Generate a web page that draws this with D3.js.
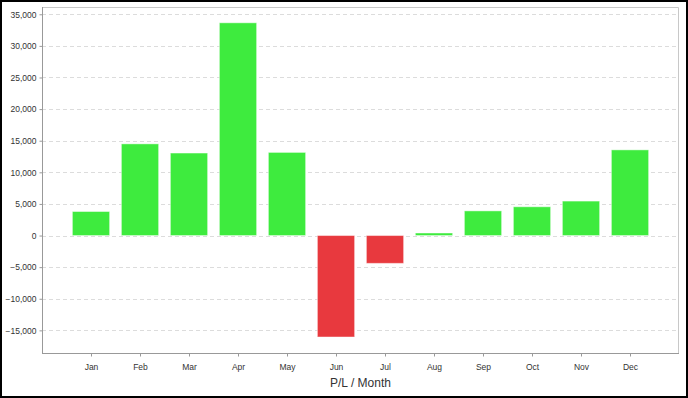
<!DOCTYPE html>
<html>
<head>
<meta charset="utf-8">
<script src="https://cdn.jsdelivr.net/npm/d3@7"></script>
<style>
  body { margin: 0; background: #fff; }
  svg { display: block; font-family: "Liberation Sans", Arial, sans-serif; }
</style>
</head>
<body>
<svg id="chart" width="688" height="398"></svg>
<script>
// P/L per month
var months = ["Jan", "Feb", "Mar", "Apr", "May", "Jun", "Jul", "Aug", "Sep", "Oct", "Nov", "Dec"];
var profit = [3800, 14500, 13050, 33650, 13150, -16050, -4400, 400, 3900, 4550, 5450, 13550];
var yTicks = [-15000, -10000, -5000, 0, 5000, 10000, 15000, 20000, 25000, 30000, 35000];

var svg = d3.select("#chart");
var width = 688, height = 398;
var margin = { top: 7, right: 9, bottom: 45, left: 42 };

// outer frame
svg.append("rect")
    .attr("x", 1).attr("y", 1)
    .attr("width", width - 2).attr("height", height - 2)
    .attr("fill", "#fff")
    .attr("stroke", "#000")
    .attr("stroke-width", 2);

var xScale = d3.scalePoint()
    .domain(months)
    .range([margin.left, width - margin.right])
    .padding(1);

var yScale = d3.scaleLinear()
    .domain([-18580, 36150])
    .range([height - margin.bottom, margin.top]);

var barWidth = xScale.step() * 0.76;

// gridlines
svg.append("g")
    .selectAll("line")
    .data(yTicks)
    .join("line")
    .attr("x1", margin.left)
    .attr("x2", width - margin.right)
    .attr("y1", d => Math.round(yScale(d)) + 0.5)
    .attr("y2", d => Math.round(yScale(d)) + 0.5)
    .attr("stroke", "#dcdcdc")
    .attr("stroke-dasharray", "4,3");

// top and right frame of plot
svg.append("path")
    .attr("d", `M${margin.left},${margin.top + 0.5}H${width - margin.right - 0.5}V${height - margin.bottom}`)
    .attr("fill", "none")
    .attr("stroke", "#c8c8c8");

// bars
svg.append("g")
    .selectAll("rect")
    .data(profit)
    .join("rect")
    .attr("x", (d, i) => xScale(months[i]) - barWidth / 2)
    .attr("y", d => yScale(Math.max(0, d)))
    .attr("width", barWidth)
    .attr("height", d => Math.abs(yScale(d) - yScale(0)))
    .attr("fill", d => d >= 0 ? "#3eeb3e" : "#e8393e")
    .attr("stroke", "rgba(255,255,255,0.45)")
    .attr("stroke-width", 1);

// Y axis
var yAxis = svg.append("g")
    .attr("transform", `translate(${margin.left + 0.5}, 0)`)
    .call(d3.axisLeft(yScale).tickValues(yTicks).tickSize(3).tickPadding(3)
        .tickFormat(d3.format(",")));
yAxis.select(".domain").attr("stroke", "#999").attr("d", `M0,${margin.top}V${height - margin.bottom}`);
yAxis.selectAll(".tick line").attr("stroke", "#999");
yAxis.selectAll(".tick text").attr("fill", "#333").style("font-size", "8.5px");

// X axis
var xAxis = svg.append("g")
    .attr("transform", `translate(0, ${height - margin.bottom + 0.5})`)
    .call(d3.axisBottom(xScale).tickSize(3).tickPadding(7));
xAxis.select(".domain").attr("stroke", "#999").attr("d", `M${margin.left},0H${width - margin.right}`);
xAxis.selectAll(".tick line").attr("stroke", "#999");
xAxis.selectAll(".tick text").attr("fill", "#333").style("font-size", "8.5px");

// X axis label
svg.append("text")
    .attr("x", (margin.left + width - margin.right) / 2)
    .attr("y", 387)
    .attr("text-anchor", "middle")
    .attr("fill", "#333")
    .style("font-size", "12px")
    .text("P/L / Month");
</script>
</body>
</html>
